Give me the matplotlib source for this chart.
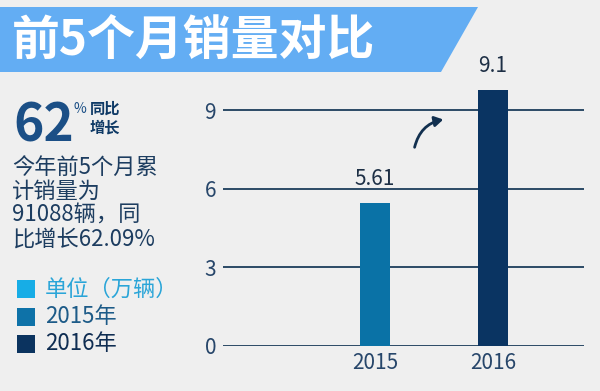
import matplotlib
matplotlib.use("Agg")
import matplotlib.pyplot as plt
from matplotlib.patches import Polygon, Rectangle, FancyArrowPatch

plt.rcParams['font.family'] = ['Noto Sans CJK SC', 'DejaVu Sans']

# data
years = ['2015', '2016']
value_labels = ['5.61', '9.1']
bar_heights = [5.45, 9.77]      # heights as drawn in the picture
bar_colors = ['#0a72a6', '#0a3462']
y_ticks = [0, 3, 6, 9]

title = '前5个月销量对比'
note_lines = ['今年前5个月累', '计销量为', '91088辆，同', '比增长62.09%']
legend_labels = ['单位（万辆）', '2015年', '2016年']
legend_colors = ['#17ade6', '#0e72a8', '#0b335f']
legend_text_colors = ['#2aa5d8', '#1d5b88', '#0f2d52']

W, H = 600, 391
BG = '#efefef'


def px(x, y):
    return x / W, 1 - y / H


fig = plt.figure(figsize=(6, 3.91), dpi=100, facecolor=BG)

# title banner
fig.patches.append(Polygon([px(0, 7), px(478, 7), px(441, 72), px(0, 72)],
                           closed=True, transform=fig.transFigure,
                           facecolor='#63adf3', edgecolor='none'))
fig.text(*px(12, 40), title, color='white', fontsize=34.5, fontweight='bold',
         va='center', ha='left')

# big 62%
fig.text(*px(13, 142), '62', color='#1b4f86', fontsize=37, fontweight='bold',
         va='baseline', ha='left')
fig.text(*px(74, 113), '%', color='#1b4f86', fontsize=10, va='baseline', ha='left')
fig.text(*px(90, 114), '同比', color='#0f3a66', fontsize=11, fontweight='bold',
         va='baseline', ha='left')
fig.text(*px(90, 133), '增长', color='#0f3a66', fontsize=11, fontweight='bold',
         va='baseline', ha='left')

# note text
for i, line in enumerate(note_lines):
    fig.text(*px(12, 168 + i * 23.7), line, color='#1d3d60', fontsize=16,
             va='center', ha='left')

# legend
for i, (lab, c, tc) in enumerate(zip(legend_labels, legend_colors, legend_text_colors)):
    yc = 289 + i * 27.5
    fig.patches.append(Rectangle(px(17, yc + 9), 18 / W, 18 / H,
                                 transform=fig.transFigure, facecolor=c,
                                 edgecolor='none'))
    fig.text(*px(45, yc), lab, color=tc, fontsize=16, va='center', ha='left')

# bar chart
ax = fig.add_axes([223 / W, 45 / H, 361 / W, 275 / H])
ax.set_facecolor(BG)
x = range(len(years))
ax.bar(x, bar_heights, width=0.254, color=bar_colors, zorder=3)
for xi, h, lab in zip(x, bar_heights, value_labels):
    ax.annotate(lab, (xi, h), xytext=(0, 13), textcoords='offset points',
                ha='center', va='baseline', fontsize=15, color='#1d2f45')

ax.set_xlim(-1.288, 1.771)
ax.set_ylim(0, 10.5)
ax.set_yticks(y_ticks)
ax.set_xticks(list(x))
ax.set_xticklabels(years)
ax.grid(axis='y', color='#2b4a66', linewidth=1.4, zorder=1)
ax.tick_params(length=0, labelsize=15, labelcolor='#27466a')
ax.tick_params(axis='y', pad=5)
ax.tick_params(axis='x', pad=4)
for s in ax.spines.values():
    s.set_visible(False)

# growth arrow
fig.patches.append(FancyArrowPatch(px(414, 150), px(446, 119),
                                   transform=fig.transFigure,
                                   connectionstyle='arc3,rad=-0.35',
                                   arrowstyle='-|>,head_length=5,head_width=3',
                                   color='#12304f', linewidth=2))

fig.savefig('out.png', dpi=100, facecolor=BG)
